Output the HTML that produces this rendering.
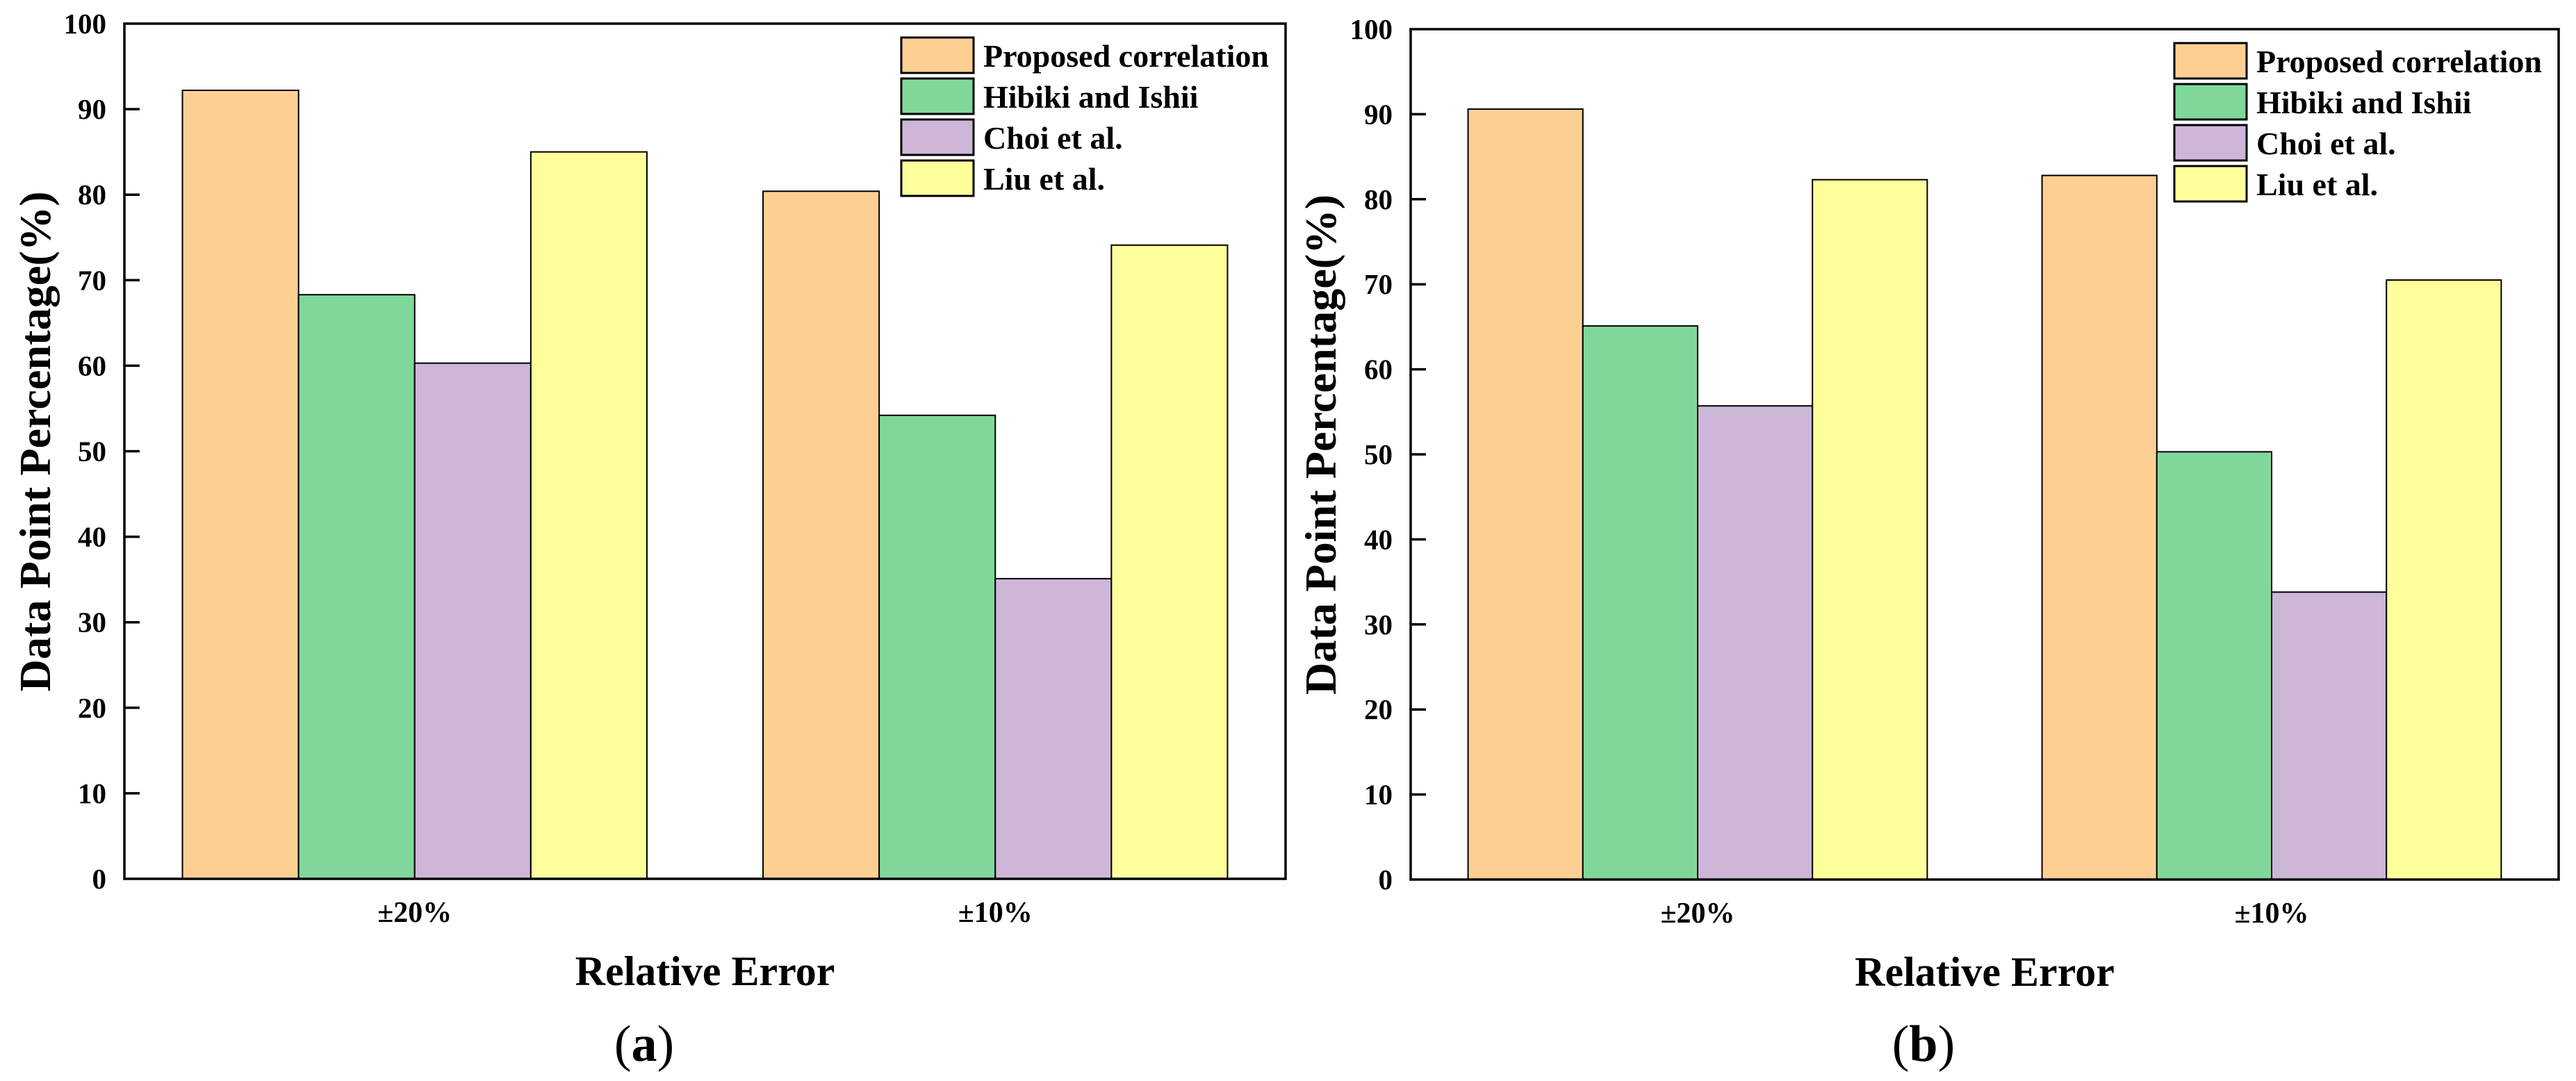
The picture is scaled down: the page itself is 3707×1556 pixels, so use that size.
<!DOCTYPE html>
<html><head><meta charset="utf-8">
<style>
html,body{margin:0;padding:0;background:#fff;}
svg{display:block;font-family:"Liberation Serif",serif;}
</style></head>
<body>
<svg id="fig" width="3707" height="1556" viewBox="0 0 3707 1556" xmlns="http://www.w3.org/2000/svg"></svg>
<script>
const categories = ["±20%", "±10%"];
const seriesNames = ["Proposed correlation", "Hibiki and Ishii", "Choi et al.", "Liu et al."];
const seriesColors = ["#FECF93", "#7FD89A", "#CDB6D8", "#FEFE9B"];
const valuesA = [[92.2, 80.4], [68.3, 54.2], [60.3, 35.1], [85.0, 74.1]];
const valuesB = [[90.6, 82.8], [65.1, 50.3], [55.7, 33.8], [82.3, 70.5]];
const yTicks = [0, 10, 20, 30, 40, 50, 60, 70, 80, 90, 100];

const NS = "http://www.w3.org/2000/svg";
const svg = document.getElementById("fig");
function mk(tag, attrs, parent) {
  const e = document.createElementNS(NS, tag);
  for (const k in attrs) e.setAttribute(k, attrs[k]);
  (parent || svg).appendChild(e);
  return e;
}

function panel(id, values, x0, x1, yTop, yBot, yTitleX, capX, capLetter) {
  const g = mk("g", {});
  
  
  const yScale = v => yBot - (v / 100) * (yBot - yTop);
  const W = x1 - x0;
  const band = W / categories.length;
  const bw = band * 0.8 / seriesNames.length;
  const xCenter = i => x0 + (i + 0.5) * band;

  for (let s = 0; s < seriesNames.length; s++) {
    for (let c = 0; c < categories.length; c++) {
      const v = values[s][c];
      const bx = xCenter(c) - 2 * bw + s * bw;
      const r = mk("rect", {x: bx, y: yScale(v), width: bw, height: yBot - yScale(v),
        fill: seriesColors[s], stroke: "#000", "stroke-width": 2}, g);
      
      
    }
  }
  const fr = mk("rect", {x: x0, y: yTop, width: W, height: yBot - yTop, fill: "none", stroke: "#000", "stroke-width": 3.5}, g);
  
  
  yTicks.forEach(t => {
    const y = yScale(t);
    if (t > 0 && t < 100) {
      const ln = mk("line", {x1: x0, x2: x0 + 22, y1: y, y2: y, stroke: "#000", "stroke-width": 3.5}, g);
      
      
    }
    const tx = mk("text", {x: x0 - 26, y: y + 14, "font-size": 41, "font-weight": "bold", "text-anchor": "end"}, g);
    tx.textContent = t;
    
    
  });
  categories.forEach((c, i) => {
    const tx = mk("text", {x: xCenter(i), y: yBot + 62, "font-size": 42, "font-weight": "bold", "text-anchor": "middle"}, g);
    tx.textContent = c;
    
    
  });
  const xt = mk("text", {x: (x0 + x1) / 2, y: yBot + 153, "font-size": 60, "font-weight": "bold", "text-anchor": "middle"}, g);
  xt.textContent = "Relative Error";
  
  
  const cy = (yTop + yBot) / 2 - 14;
  const yt = mk("text", {x: 0, y: 0, "font-size": 64, "font-weight": "bold", "text-anchor": "middle",
    textLength: 720, lengthAdjust: "spacingAndGlyphs",
    transform: "translate(" + yTitleX + "," + cy + ") rotate(-90)"}, g);
  yt.textContent = "Data Point Percentage(%)";
  
  
  const cap = mk("text", {x: capX, y: 1527, "font-size": 74, "text-anchor": "middle"}, g);
  
  
  const t1 = mk("tspan", {}, cap); t1.textContent = "(";
  const t2 = mk("tspan", {"font-weight": "bold"}, cap); t2.textContent = capLetter;
  const t3 = mk("tspan", {}, cap); t3.textContent = ")";
  const lx = x1 - 553, ly = yTop + 20;
  seriesNames.forEach((n, s) => {
    const ry = ly + s * 59;
    const box = mk("rect", {x: lx, y: ry, width: 104, height: 51, fill: seriesColors[s], stroke: "#000", "stroke-width": 3}, g);
    
    
    const lt = mk("text", {x: lx + 118, y: ry + 42, "font-size": 46, "font-weight": "bold"}, g);
    lt.textContent = n;
    
    
  });
}

panel("a", valuesA, 179, 1850, 34, 1265, 72, 927, "a");
panel("b", valuesB, 2030, 3682, 42, 1266, 1922, 2768, "b");
</script>
</body></html>
